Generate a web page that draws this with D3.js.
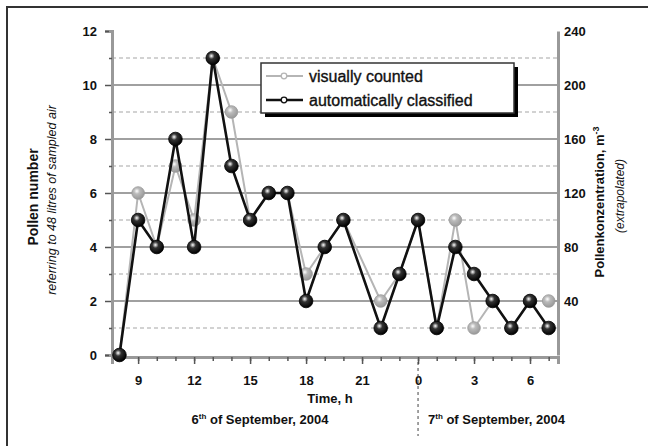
<!DOCTYPE html>
<html lang="en">
<head>
<meta charset="UTF-8">
<title>Pollen</title>
<script src="https://cdn.jsdelivr.net/npm/d3@7"></script>
<style>
    body { margin: 0; background: #fff; }
    text { font-family: "Liberation Sans", Arial, sans-serif; fill: #111; }
</style>
</head>
<body>
<div id="chart"></div>
<script>
    // data: hours since midnight of 6 Sept (21 h missing)
    var hours = [8, 9, 10, 11, 12, 13, 14, 15, 16, 17, 18, 19, 20, 22, 23, 24, 25, 26, 27, 28, 29, 30, 31];
    var visual = [0, 6, 4, 7, 5, 11, 9, 5, 6, 6, 3, 4, 5, 2, 3, 5, 1, 5, 1, 2, 1, 2, 2];
    var auto = [0, 5, 4, 8, 4, 11, 7, 5, 6, 6, 2, 4, 5, 1, 3, 5, 1, 4, 3, 2, 1, 2, 1];
    var leftTicks = [0, 2, 4, 6, 8, 10, 12];
    var rightTicks = [40, 80, 120, 160, 200, 240];
    var xTicks = [9, 12, 15, 18, 21, 24, 27, 30];
    var seriesNames = ["visually counted", "automatically classified"];

    var width = 648, height = 446;
    var svg = d3.select("#chart").append("svg")
        .attr("width", width).attr("height", height);

    var defs = svg.append("defs");
    function ball(id, c0, c1, c2) {
        var g = defs.append("radialGradient").attr("id", id)
            .attr("cx", "40%").attr("cy", "35%").attr("r", "65%");
        g.append("stop").attr("offset", "0%").attr("stop-color", c0);
        g.append("stop").attr("offset", "35%").attr("stop-color", c1);
        g.append("stop").attr("offset", "100%").attr("stop-color", c2);
    }
    ball("bBlack", "#fff", "#333", "#000");
    ball("bGray", "#fff", "#bbb", "#999");

    // frame (only top/left visible)
    svg.append("path").attr("d", "M7,446V7H648")
        .attr("fill", "none").attr("stroke", "#333").attr("stroke-width", 2);

    var x = d3.scaleLinear().domain([7.6, 31.5]).range([112, 558]);
    var y = d3.scaleLinear().domain([0, 12]).range([355, 31]);
    var y2 = d3.scaleLinear().domain([0, 240]).range([355, 31]);

    // grid
    var grid = svg.append("g");
    grid.selectAll(".maj").data([2, 4, 6, 8, 10]).enter().append("line")
        .attr("x1", 112).attr("x2", 558)
        .attr("y1", function (d) { return y(d); }).attr("y2", function (d) { return y(d); })
        .attr("stroke", "#a0a0a0").attr("stroke-width", 1.8);
    grid.selectAll(".min").data([1, 3, 5, 7, 9, 11]).enter().append("line")
        .attr("x1", 112).attr("x2", 558)
        .attr("y1", function (d) { return y(d); }).attr("y2", function (d) { return y(d); })
        .attr("stroke", "#c4c4c4").attr("stroke-width", 1.3).attr("stroke-dasharray", "4,3");

    // axes
    svg.append("g").attr("transform", "translate(112,0)")
        .call(d3.axisLeft(y).tickValues(leftTicks).tickSize(7).tickPadding(8));
    svg.append("g").attr("transform", "translate(112,0)")
        .call(d3.axisLeft(y).tickValues([1, 3, 5, 7, 9, 11]).tickSize(3).tickFormat(""));
    svg.append("g").attr("transform", "translate(558,0)")
        .call(d3.axisRight(y2).tickValues(rightTicks).tickSize(0).tickPadding(6));
    svg.append("g").attr("transform", "translate(0,357)")
        .call(d3.axisBottom(x).tickValues(xTicks).tickSize(7).tickPadding(12)
            .tickFormat(function (d) { return d % 24; }));
    svg.append("g").attr("transform", "translate(0,357)")
        .call(d3.axisBottom(x).tickValues(d3.range(8, 32)).tickSize(4).tickFormat(""));
    svg.selectAll(".domain").attr("stroke", "#999").attr("stroke-width", 3);
    svg.selectAll(".tick line").attr("stroke", "#555").attr("stroke-width", 1.5);
    svg.selectAll(".tick text").attr("font-size", 13).attr("font-weight", "bold")
        .attr("font-family", "Liberation Sans, Arial, sans-serif").attr("fill", "#111");

    // series
    var line = d3.line()
        .x(function (d) { return x(d[0]); })
        .y(function (d) { return y(d[1]); });
    var visData = d3.zip(hours, visual), autoData = d3.zip(hours, auto);

    svg.append("path").datum(visData).attr("d", line)
        .attr("fill", "none").attr("stroke", "#b5b5b5").attr("stroke-width", 2);
    svg.selectAll(".pv").data(visData).enter().append("circle")
        .attr("cx", function (d) { return x(d[0]); })
        .attr("cy", function (d) { return y(d[1]); })
        .attr("r", 6.3).attr("fill", "url(#bGray)").attr("stroke", "#999").attr("stroke-width", 0.8);

    svg.append("path").datum(autoData).attr("d", line)
        .attr("fill", "none").attr("stroke", "#111").attr("stroke-width", 2.6);
    svg.selectAll(".pa").data(autoData).enter().append("circle")
        .attr("cx", function (d) { return x(d[0]); })
        .attr("cy", function (d) { return y(d[1]); })
        .attr("r", 6.8).attr("fill", "url(#bBlack)").attr("stroke", "#000").attr("stroke-width", 0.8);

    // legend
    var lg = svg.append("g").attr("transform", "translate(261,63)");
    lg.append("rect").attr("x", 4).attr("y", 4).attr("width", 253).attr("height", 50).attr("fill", "#000");
    lg.append("rect").attr("width", 253).attr("height", 50).attr("fill", "#fff")
        .attr("stroke", "#333").attr("stroke-width", 1.5);
    var lcol = ["#b5b5b5", "#111"];
    seriesNames.forEach(function (n, i) {
        var yy = 13 + i * 24;
        lg.append("line").attr("x1", 5).attr("x2", 42).attr("y1", yy).attr("y2", yy)
            .attr("stroke", lcol[i]).attr("stroke-width", i ? 2.6 : 2);
        lg.append("circle").attr("cx", 23).attr("cy", yy).attr("r", 2.8)
            .attr("fill", "#fff").attr("stroke", lcol[i]).attr("stroke-width", 1.3);
        lg.append("text").attr("x", 48).attr("y", yy + 6)
            .attr("font-size", 16).attr("stroke", "#111").attr("stroke-width", 0.35).text(n);
    });

    // axis titles
    svg.append("text").attr("transform", "translate(38,197)rotate(-90)")
        .attr("text-anchor", "middle").attr("font-size", 14).attr("font-weight", "bold")
        .text("Pollen number");
    svg.append("text").attr("transform", "translate(56,200)rotate(-90)")
        .attr("text-anchor", "middle").attr("font-size", 12.5).attr("font-style", "italic")
        .text("referring to 48 litres of sampled air");
    var rt = svg.append("text").attr("transform", "translate(604,202)rotate(-90)")
        .attr("text-anchor", "middle").attr("font-size", 13).attr("font-weight", "bold");
    rt.append("tspan").text("Pollenkonzentration, m");
    rt.append("tspan").attr("dy", -5).attr("font-size", 9).text("-3");
    svg.append("text").attr("transform", "translate(624,196)rotate(-90)")
        .attr("text-anchor", "middle").attr("font-size", 12).attr("font-style", "italic")
        .text("(extrapolated)");

    svg.append("text").attr("x", 330).attr("y", 403).attr("text-anchor", "middle")
        .attr("font-size", 13).attr("font-weight", "bold").text("Time, h");
    function dayLabel(px, anchor, d) {
        var t = svg.append("text").attr("x", px).attr("y", 424).attr("text-anchor", anchor)
            .attr("font-size", 13).attr("font-weight", "bold");
        t.append("tspan").text(d);
        t.append("tspan").attr("dy", -5).attr("font-size", 8).text("th");
        t.append("tspan").attr("dy", 5).text(" of September, 2004");
    }
    dayLabel(260, "middle", "6");
    dayLabel(428, "start", "7");

    svg.append("line").attr("x1", x(24)).attr("x2", x(24)).attr("y1", 362).attr("y2", 436)
        .attr("stroke", "#444").attr("stroke-width", 1).attr("stroke-dasharray", "3,3");
</script>
</body>
</html>
